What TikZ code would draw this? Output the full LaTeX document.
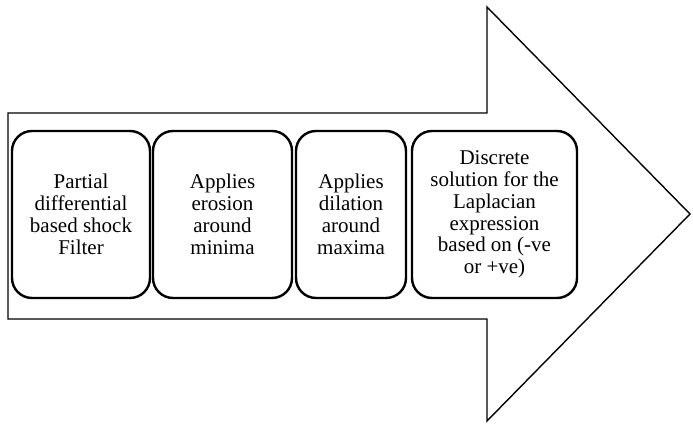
\documentclass[tikz,border=0pt]{standalone}
\usepackage{fontspec}
\setmainfont{Liberation Serif}
\begin{document}
\begin{tikzpicture}[x=1pt,y=-1pt,
  stagebox/.style={draw=black, line width=2.4pt, rounded corners=20pt, fill=white,
    minimum height=167pt, inner sep=0pt, align=center,
    font=\fontsize{21}{21.8}\selectfont},
  arrowshape/.style={draw=black, line width=1.4pt, line join=miter, fill=white}]
\useasboundingbox (0,0) rectangle (693,423);
\draw[arrowshape] (8,113) -- (487,113) -- (487,7) -- (690,214) -- (487,421) -- (487,319) -- (8,319) -- cycle;
\node[stagebox, minimum width=138pt] (s1) at (81,214.5) {Partial\\differential\\based shock\\Filter};
\node[stagebox, minimum width=139pt] (s2) at (222.5,214.5) {Applies\\erosion\\around\\minima};
\node[stagebox, minimum width=110pt] (s3) at (351,214.5) {Applies\\dilation\\around\\maxima};
\node[stagebox, minimum width=165pt] (s4) at (494.5,214.5) {Discrete\\solution for the\\Laplacian\\expression\\based on (-ve\\or +ve)};
\end{tikzpicture}
\end{document}
